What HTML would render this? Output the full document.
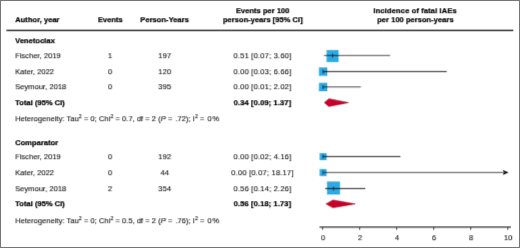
<!DOCTYPE html>
<html><head><meta charset="utf-8"><style>
html,body{margin:0;padding:0;}
body{width:520px;height:248px;position:relative;overflow:hidden;background:#fff;font-family:"Liberation Sans",sans-serif;font-size:7.6px;color:#1a1a1a;font-kerning:normal;}
.frame{position:absolute;left:0;top:0;width:518px;height:246px;border:1px solid #767676;}
.t{position:absolute;white-space:nowrap;line-height:10px;-webkit-text-stroke:0.12px currentColor;}
.b{font-weight:bold;color:#000;-webkit-text-stroke:0.22px #000;}
.tk{color:#222;}
sup{font-size:72%;line-height:0;vertical-align:0;position:relative;top:-0.6em;}
svg{position:absolute;left:0;top:0;}
.L{position:absolute;left:0;top:0;width:520px;height:248px;transform:translate(0.2px,0.2px) perspective(1000px) translateZ(0.001px);}
</style></head><body>
<div class="L">
<svg width="520" height="248" viewBox="0 0 520 248">
<rect x="326.35" y="49.80" width="12" height="12" fill="#2fa9e1"/>
<line x1="323.70" y1="55.30" x2="389.87" y2="55.30" stroke="#000" stroke-opacity="0.7" stroke-width="1.1"/>
<line x1="332.35" y1="53.30" x2="332.35" y2="57.30" stroke="#000" stroke-opacity="0.7" stroke-width="0.9"/>
<rect x="318.70" y="67.20" width="8.4" height="8.4" fill="#2fa9e1"/>
<line x1="322.96" y1="71.40" x2="446.54" y2="71.40" stroke="#000" stroke-opacity="0.7" stroke-width="1.1"/>
<line x1="322.90" y1="69.40" x2="322.90" y2="73.40" stroke="#000" stroke-opacity="0.7" stroke-width="0.9"/>
<rect x="318.70" y="82.60" width="8.4" height="8.4" fill="#2fa9e1"/>
<line x1="322.59" y1="86.80" x2="360.61" y2="86.80" stroke="#000" stroke-opacity="0.7" stroke-width="1.1"/>
<line x1="322.90" y1="84.80" x2="322.90" y2="88.80" stroke="#000" stroke-opacity="0.7" stroke-width="0.9"/>
<path d="M324.07 102.40 L328.70 98.50 L348.37 102.40 L328.70 106.30 Z" fill="#c8002a" stroke="#a00020" stroke-width="0.5" stroke-linejoin="round"/>
<rect x="319.40" y="152.90" width="7" height="7" fill="#2fa9e1"/>
<line x1="322.77" y1="156.40" x2="400.24" y2="156.40" stroke="#000" stroke-opacity="0.7" stroke-width="1.1"/>
<line x1="322.90" y1="154.40" x2="322.90" y2="158.40" stroke="#000" stroke-opacity="0.7" stroke-width="0.9"/>
<rect x="319.40" y="168.80" width="7" height="7" fill="#2fa9e1"/>
<line x1="323.70" y1="172.30" x2="503" y2="172.30" stroke="#000" stroke-opacity="0.7" stroke-width="1.1"/>
<path d="M502.6 169.80 L508.4 172.30 L502.6 174.80 L503.6 172.30 Z" fill="#111"/>
<line x1="322.90" y1="170.30" x2="322.90" y2="174.30" stroke="#000" stroke-opacity="0.7" stroke-width="0.9"/>
<rect x="326.77" y="181.30" width="13" height="13" fill="#2fa9e1"/>
<line x1="324.99" y1="188.40" x2="365.06" y2="188.40" stroke="#000" stroke-opacity="0.7" stroke-width="1.1"/>
<line x1="333.27" y1="186.40" x2="333.27" y2="190.40" stroke="#000" stroke-opacity="0.7" stroke-width="0.9"/>
<path d="M325.73 203.70 L332.77 199.80 L355.04 203.70 L332.77 207.60 Z" fill="#c8002a" stroke="#a00020" stroke-width="0.5" stroke-linejoin="round"/>
<line x1="6.2" y1="30.25" x2="513" y2="30.25" stroke="#333" stroke-width="1.3"/>
<line x1="319.3" y1="226.9" x2="511" y2="226.9" stroke="#333" stroke-width="1.2"/>
<line x1="322.40" y1="226.9" x2="322.40" y2="229.6" stroke="#333" stroke-width="0.9"/>
<line x1="359.44" y1="226.9" x2="359.44" y2="229.6" stroke="#333" stroke-width="0.9"/>
<line x1="396.48" y1="226.9" x2="396.48" y2="229.6" stroke="#333" stroke-width="0.9"/>
<line x1="433.52" y1="226.9" x2="433.52" y2="229.6" stroke="#333" stroke-width="0.9"/>
<line x1="470.56" y1="226.9" x2="470.56" y2="229.6" stroke="#333" stroke-width="0.9"/>
<line x1="507.60" y1="226.9" x2="507.60" y2="229.6" stroke="#333" stroke-width="0.9"/>
</svg>
<div class="t b" style="top:15px;left:15.00px;">Author, year</div>
<div class="t b" style="top:15px;left:10.10px;width:200px;text-align:center;">Events</div>
<div class="t b" style="top:15px;left:64.40px;width:200px;text-align:center;">Person-Years</div>
<div class="t b" style="top:6px;left:162.50px;width:200px;text-align:center;">Events per 100</div>
<div class="t b" style="top:15px;left:162.60px;width:200px;text-align:center;">person-years [95% CI]</div>
<div class="t b" style="top:6px;left:315.00px;width:200px;text-align:center;letter-spacing:0.1px;">Incidence of fatal IAEs</div>
<div class="t b" style="top:15px;left:315.20px;width:200px;text-align:center;">per 100 person-years</div>
<div class="t b" style="top:36px;left:15.00px;">Venetoclax</div>
<div class="t" style="top:51px;left:15.00px;">Fischer, 2019</div>
<div class="t" style="top:51px;left:10.00px;width:200px;text-align:center;letter-spacing:0.18px;">1</div>
<div class="t" style="top:51px;left:64.60px;width:200px;text-align:center;letter-spacing:0.18px;">197</div>
<div class="t" style="top:51px;left:162.30px;width:200px;text-align:center;letter-spacing:0.18px;">0.51 [0.07; 3.60]</div>
<div class="t" style="top:67px;left:15.00px;">Kater, 2022</div>
<div class="t" style="top:67px;left:10.00px;width:200px;text-align:center;letter-spacing:0.18px;">0</div>
<div class="t" style="top:67px;left:64.60px;width:200px;text-align:center;letter-spacing:0.18px;">120</div>
<div class="t" style="top:67px;left:162.30px;width:200px;text-align:center;letter-spacing:0.18px;">0.00 [0.03; 6.66]</div>
<div class="t" style="top:82px;left:15.00px;">Seymour, 2018</div>
<div class="t" style="top:82px;left:10.00px;width:200px;text-align:center;letter-spacing:0.18px;">0</div>
<div class="t" style="top:82px;left:64.60px;width:200px;text-align:center;letter-spacing:0.18px;">395</div>
<div class="t" style="top:82px;left:162.30px;width:200px;text-align:center;letter-spacing:0.18px;">0.00 [0.01; 2.02]</div>
<div class="t b" style="top:98px;left:15.00px;">Total (95% CI)</div>
<div class="t b" style="top:98px;left:162.30px;width:200px;text-align:center;letter-spacing:0.08px;">0.34 [0.09; 1.37]</div>
<div class="t" style="top:114px;left:15.00px;">Heterogeneity: Tau<sup>2</sup> = 0; Chi<sup>2</sup> = 0.7, df = 2 (<i>P</i> = <span style="margin-left:1px">.72);</span> I<sup>2</sup> = <span style="margin-left:1px;letter-spacing:0.6px">0%</span></div>
<div class="t b" style="top:138px;left:15.00px;">Comparator</div>
<div class="t" style="top:152px;left:15.00px;">Fischer, 2019</div>
<div class="t" style="top:152px;left:10.00px;width:200px;text-align:center;letter-spacing:0.18px;">0</div>
<div class="t" style="top:152px;left:64.60px;width:200px;text-align:center;letter-spacing:0.18px;">192</div>
<div class="t" style="top:152px;left:162.30px;width:200px;text-align:center;letter-spacing:0.18px;">0.00 [0.02; 4.16]</div>
<div class="t" style="top:168px;left:15.00px;">Kater, 2022</div>
<div class="t" style="top:168px;left:10.00px;width:200px;text-align:center;letter-spacing:0.18px;">0</div>
<div class="t" style="top:168px;left:64.60px;width:200px;text-align:center;letter-spacing:0.18px;">44</div>
<div class="t" style="top:168px;left:162.30px;width:200px;text-align:center;letter-spacing:0.18px;">0.00 [0.07; 18.17]</div>
<div class="t" style="top:184px;left:15.00px;">Seymour, 2018</div>
<div class="t" style="top:184px;left:10.00px;width:200px;text-align:center;letter-spacing:0.18px;">2</div>
<div class="t" style="top:184px;left:64.60px;width:200px;text-align:center;letter-spacing:0.18px;">354</div>
<div class="t" style="top:184px;left:162.30px;width:200px;text-align:center;letter-spacing:0.18px;">0.56 [0.14; 2.26]</div>
<div class="t b" style="top:199px;left:15.00px;">Total (95% CI)</div>
<div class="t b" style="top:199px;left:162.30px;width:200px;text-align:center;letter-spacing:0.08px;">0.56 [0.18; 1.73]</div>
<div class="t" style="top:216px;left:15.00px;">Heterogeneity: Tau<sup>2</sup> = 0; Chi<sup>2</sup> = 0.5, df = 2 (<i>P</i> = <span style="margin-left:1px">.76);</span> I<sup>2</sup> = <span style="margin-left:1px;letter-spacing:0.6px">0%</span></div>
<div class="t tk" style="top:233px;left:222.80px;width:200px;text-align:center;">0</div>
<div class="t tk" style="top:233px;left:259.84px;width:200px;text-align:center;">2</div>
<div class="t tk" style="top:233px;left:296.88px;width:200px;text-align:center;">4</div>
<div class="t tk" style="top:233px;left:333.92px;width:200px;text-align:center;">6</div>
<div class="t tk" style="top:233px;left:370.96px;width:200px;text-align:center;">8</div>
<div class="t tk" style="top:233px;left:408.00px;width:200px;text-align:center;">10</div>
</div>
<div class="frame"></div>
</body></html>
